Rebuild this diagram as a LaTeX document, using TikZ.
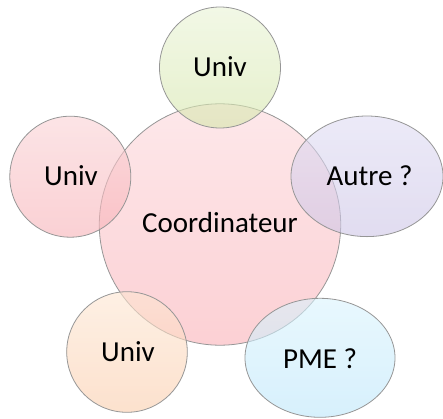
\documentclass[tikz,border=0pt]{standalone}
\usepackage{fontspec}
\setmainfont{Carlito}
\definecolor{cTop}{RGB}{253,232,234}
\definecolor{cBot}{RGB}{252,208,212}
\definecolor{gTop}{RGB}{233,243,213}
\definecolor{gBot}{RGB}{213,230,170}
\definecolor{rTop}{RGB}{250,210,213}
\definecolor{rBot}{RGB}{247,177,183}
\definecolor{pTop}{RGB}{223,220,243}
\definecolor{pBot}{RGB}{205,197,230}
\definecolor{oTop}{RGB}{253,230,210}
\definecolor{oBot}{RGB}{250,205,172}
\definecolor{bTop}{RGB}{217,243,253}
\definecolor{bBot}{RGB}{188,230,250}
\definecolor{edge}{RGB}{150,150,150}
\begin{document}
\begin{tikzpicture}[x=1pt,y=-1pt,
  blob/.style={draw=edge,line width=0.8pt},
  sat/.style={blob,fill opacity=0.6},
  lbl/.style={anchor=base,inner sep=0pt,font=\fontsize{29}{32}\selectfont}]
\useasboundingbox (0,0) rectangle (443,418);
\shade[blob,top color=cTop,bottom color=cBot] (220,224.5) circle [radius=120.7];
\shade[sat,top color=gTop,bottom color=gBot] (220,67.5) circle [radius=60.5];
\shade[sat,top color=rTop,bottom color=rBot] (70.3,176.7) circle [radius=60.5];
\shade[sat,top color=pTop,bottom color=pBot] (367,176.3) ellipse [x radius=76,y radius=60.3];
\shade[sat,top color=oTop,bottom color=oBot] (127,352) circle [radius=60.3];
\shade[sat,top color=bTop,bottom color=bBot] (320,357.8) ellipse [x radius=75,y radius=59.5];
\node[lbl] (coord) at (220,232.7) {Coordinateur};
\node[lbl] (u1) at (220,76) {Univ};
\node[lbl] (u2) at (71,185) {Univ};
\node[lbl] (autre) at (369.5,185) {Autre ?};
\node[lbl] (u3) at (128,361) {Univ};
\node[lbl] (pme) at (320,368) {PME ?};
\end{tikzpicture}
\end{document}
